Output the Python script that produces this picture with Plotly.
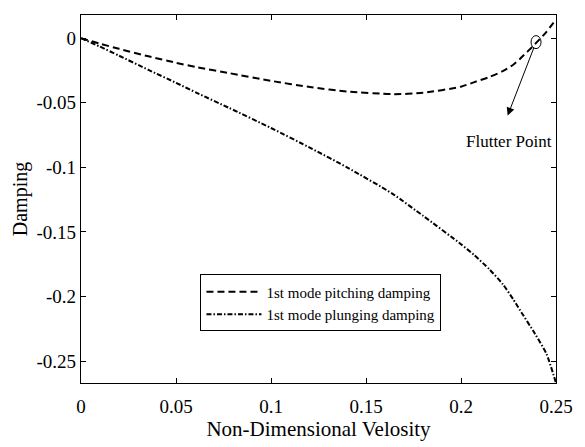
import plotly.graph_objects as go

velocity = [0, 0.01, 0.02, 0.0355, 0.05, 0.0612, 0.078, 0.1, 0.1214, 0.14, 0.164,
            0.18, 0.2, 0.207, 0.215, 0.222, 0.2275, 0.231, 0.239, 0.245, 0.25]
pitching = [0, -0.0042, -0.0082, -0.0140, -0.0190, -0.0225, -0.0270, -0.0330, -0.0380, -0.0412, -0.0433,
            -0.0423, -0.0375, -0.0340, -0.0300, -0.0255, -0.0205, -0.0160, -0.0045, 0.0050, 0.0145]
plunging = [0, -0.0065, -0.0135, -0.0245, -0.0345, -0.0425, -0.054, -0.0695, -0.0855, -0.100, -0.1205,
            -0.1375, -0.1595, -0.168, -0.179, -0.1905, -0.2022, -0.2105, -0.229, -0.2445, -0.267]

x_ticks = [0, 0.05, 0.1, 0.15, 0.2, 0.25]
x_labels = ["0", "0.05", "0.1", "0.15", "0.2", "0.25"]
y_ticks = [0, -0.05, -0.1, -0.15, -0.2, -0.25]
y_labels = ["0", "-0.05", "-0.1", "-0.15", "-0.2", "-0.25"]

flutter_v = 0.2395
flutter_d = -0.003

FONT = "Liberation Serif, Times New Roman, serif"

fig = go.Figure()
fig.add_trace(go.Scatter(
    x=velocity, y=pitching, mode="lines", name="1st mode pitching damping",
    line=dict(color="black", width=2, dash="7px,4px", shape="spline", smoothing=0.6),
))
fig.add_trace(go.Scatter(
    x=velocity, y=plunging, mode="lines", name="1st mode plunging damping",
    line=dict(color="black", width=2, dash="5px,2px,1.5px,2px", shape="spline", smoothing=0.6),
))

fig.add_shape(type="circle", xref="x", yref="y", xsizemode="pixel", ysizemode="pixel",
              xanchor=flutter_v, yanchor=flutter_d, x0=-5, x1=5, y0=-6.5, y1=6.5,
              line=dict(color="black", width=1))

fig.add_annotation(x=flutter_v, y=flutter_d, xref="x", yref="y", text="",
                   showarrow=True, arrowside="start", startarrowhead=2, startarrowsize=1.6,
                   arrowwidth=1, arrowcolor="black", ax=-29, ay=75, standoff=6)
fig.add_annotation(x=flutter_v, y=flutter_d, xref="x", yref="y", text="Flutter Point",
                   showarrow=False, xshift=-27, yshift=-99,
                   font=dict(family=FONT, size=17, color="black"))

axis_common = dict(
    showline=True, linecolor="black", linewidth=1.3, mirror="ticks",
    ticks="inside", ticklen=5, tickwidth=1, tickcolor="black",
    showgrid=False, zeroline=False,
    tickfont=dict(family=FONT, size=19, color="black"),
)

fig.update_xaxes(range=[0, 0.25], tickmode="array", tickvals=x_ticks, ticktext=x_labels,
                 ticklabelstandoff=6,
                 title=dict(text="Non-Dimensional Velosity", standoff=3,
                            font=dict(family=FONT, size=21, color="black")),
                 **axis_common)
fig.update_yaxes(range=[-0.267, 0.018], tickmode="array", tickvals=y_ticks, ticktext=y_labels,
                 title=dict(text="Damping", standoff=3,
                            font=dict(family=FONT, size=20, color="black")),
                 **axis_common)

fig.update_layout(
    width=585, height=447,
    margin=dict(l=81, r=19, t=15, b=50),
    paper_bgcolor="white", plot_bgcolor="white",
    showlegend=True,
    legend=dict(x=0.2515, y=0.295, xanchor="left", yanchor="top",
                bordercolor="black", borderwidth=1, bgcolor="white",
                font=dict(family=FONT, size=15, color="black"),
                tracegroupgap=0, itemwidth=55),
)

fig.write_html("out.html")
